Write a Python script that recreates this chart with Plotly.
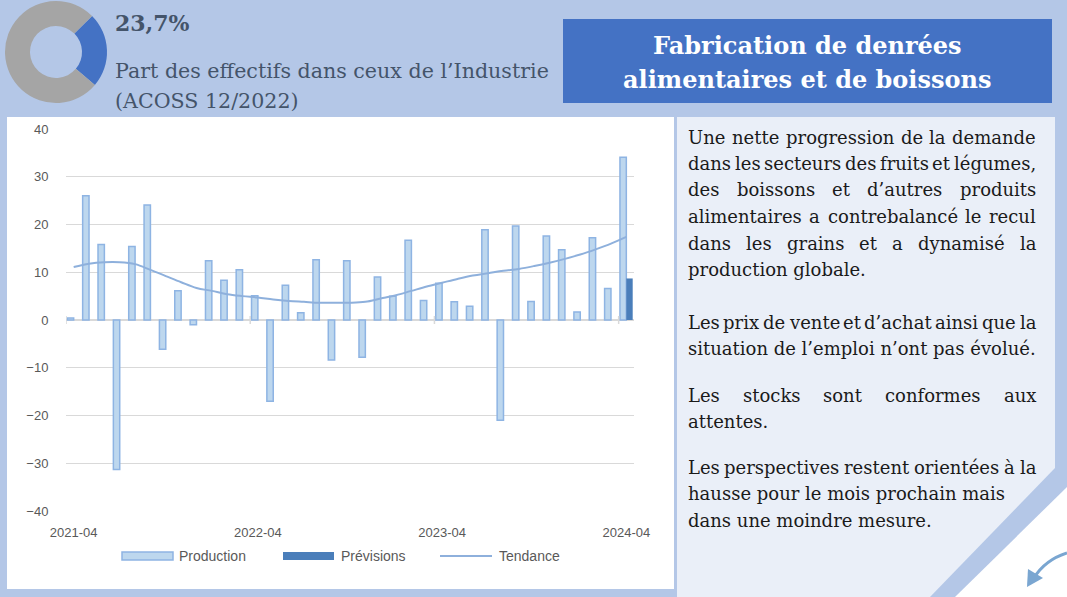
import glob
import plotly.graph_objects as go

# ---------------- data ----------------
months = ["2021-04", "2021-05", "2021-06", "2021-07", "2021-08", "2021-09", "2021-10",
          "2021-11", "2021-12", "2022-01", "2022-02", "2022-03", "2022-04", "2022-05",
          "2022-06", "2022-07", "2022-08", "2022-09", "2022-10", "2022-11", "2022-12",
          "2023-01", "2023-02", "2023-03", "2023-04", "2023-05", "2023-06", "2023-07",
          "2023-08", "2023-09", "2023-10", "2023-11", "2023-12", "2024-01", "2024-02",
          "2024-03", "2024-04"]
production = [0.4, 26.0, 15.8, -31.3, 15.4, 24.1, -6.1, 6.1, -1.0, 12.4, 8.3, 10.5,
              5.1, -17.0, 7.3, 1.5, 12.6, -8.4, 12.4, -7.8, 9.0, 5.0, 16.7, 4.1,
              7.7, 3.8, 2.9, 18.9, -21.0, 19.7, 3.9, 17.6, 14.7, 1.7, 17.2, 6.6, 34.1]
previsions_month = ["2024-04"]
previsions = [8.7]
tendance = [11.1, 11.8, 12.1, 12.1, 11.7, 10.5, 9.2, 7.9, 6.7, 6.1, 5.4, 5.0,
            4.7, 4.3, 4.0, 3.8, 3.6, 3.6, 3.6, 3.8, 4.5, 5.2, 6.1, 7.0,
            7.8, 8.6, 9.3, 9.8, 10.3, 10.7, 11.3, 12.0, 12.8, 13.7, 14.8, 16.0, 17.4]
tick_labels = ["2021-04", "2022-04", "2023-04", "2024-04"]
year_boundaries = [-0.5, 11.5, 23.5, 35.5]
donut_values = [23.7, 76.3]
donut_labels = ["Industrie agroalimentaire", "Autres"]

# commentary lines: (text, justified?)
commentary = [
    ("Une nette progression de la demande", True),
    ("dans les secteurs des fruits et légumes,", True),
    ("des boissons et d’autres produits", True),
    ("alimentaires a contrebalancé le recul", True),
    ("dans les grains et a dynamisé la", True),
    ("production globale.", False),
    ("Les prix de vente et d’achat ainsi que la", True),
    ("situation de l’emploi n’ont pas évolué.", False),
    ("Les stocks sont conformes aux", True),
    ("attentes.", False),
    ("Les perspectives restent orientées à la", True),
    ("hausse pour le mois prochain mais", False),
    ("dans une moindre mesure.", False),
]
commentary_y = [137, 163.5, 190, 216.5, 243, 269.5, 322, 348.5, 395, 421.5, 467, 493.5, 520]

# ---------------- helpers ----------------
W, H = 1067, 597
def px(x):
    return x / W
def py(y):
    return 1 - y / H

BG = "#B4C7E7"
GRID = "#D9D9D9"
AX = "#595959"
SANS = "Liberation Sans, Arial, sans-serif"
SERIF = "DejaVu Serif, serif"
PROD_FILL = "#BDD7EE"
PROD_LINE = "#8EB4E3"
PREV = "#4A7EBA"
TREND = "#8EB0DC"

MEAS = None
try:
    from PIL import ImageFont
    fps = glob.glob("/usr/share/fonts/**/DejaVuSerif.ttf", recursive=True)
    if fps:
        _f = ImageFont.truetype(fps[0], 100)
        MEAS = lambda s, size: _f.getlength(s) * size / 100.0
except Exception:
    MEAS = None

prev_full = [None] * len(months)
for m, v in zip(previsions_month, previsions):
    prev_full[months.index(m)] = v

fig = go.Figure()
fig.add_trace(go.Bar(x=months, y=production, name="Production",
                     marker=dict(color=PROD_FILL, line=dict(color=PROD_LINE, width=1.5)),
                     showlegend=False))
fig.add_trace(go.Bar(x=months, y=prev_full, name="Prévisions",
                     marker=dict(color=PREV, line=dict(width=0)), showlegend=False))
fig.add_trace(go.Scatter(x=months, y=tendance, name="Tendance", mode="lines",
                         line=dict(color=TREND, width=2, shape="spline"), showlegend=False))
fig.add_trace(go.Pie(values=donut_values, labels=donut_labels, hole=0.51, sort=False,
                     direction="clockwise", rotation=45,
                     marker=dict(colors=["#4472C4", "#A5A5A5"], line=dict(width=0)),
                     textinfo="none", showlegend=False,
                     domain=dict(x=[px(5), px(107)], y=[py(103), py(1)])))

def path(points):
    return "M " + " L ".join(f"{px(a):.5f},{py(b):.5f}" for a, b in points) + " Z"

shapes = []
shapes.append(dict(type="rect", xref="paper", yref="paper", x0=px(7), x1=px(674),
                   y0=py(589), y1=py(117), fillcolor="white", line=dict(width=0), layer="below"))
shapes.append(dict(type="path", xref="paper", yref="paper",
                   path=path([(677, 117), (1055, 117), (1055, 468), (930, 597), (677, 597)]),
                   fillcolor="#EAEFF8", line=dict(width=0), layer="below"))
shapes.append(dict(type="path", xref="paper", yref="paper",
                   path=path([(1067, 487), (955, 597), (1067, 597)]),
                   fillcolor="white", line=dict(width=0), layer="below"))
shapes.append(dict(type="path", xref="paper", yref="paper",
                   path=f"M {px(1067)},{py(553)} Q {px(1045)},{py(560)} {px(1034)},{py(578)}",
                   line=dict(color="#7AA6D1", width=3)))
shapes.append(dict(type="path", xref="paper", yref="paper",
                   path=path([(1027, 587), (1028, 569), (1043, 578)]),
                   fillcolor="#7AA6D1", line=dict(width=0)))
shapes.append(dict(type="rect", xref="paper", yref="paper", x0=px(563), x1=px(1052),
                   y0=py(103), y1=py(19), fillcolor="#4472C4", line=dict(width=0)))
for b in year_boundaries:
    shapes.append(dict(type="line", xref="x", yref="y", x0=b, x1=b, ysizemode="pixel",
                       yanchor=0, y0=-4, y1=4, line=dict(color=GRID, width=1.5)))
shapes.append(dict(type="rect", xref="paper", yref="paper", x0=px(122), x1=px(173),
                   y0=py(560), y1=py(552), fillcolor=PROD_FILL, line=dict(color=PROD_LINE, width=1.5)))
shapes.append(dict(type="rect", xref="paper", yref="paper", x0=px(283), x1=px(334),
                   y0=py(560), y1=py(552), fillcolor=PREV, line=dict(width=0)))
shapes.append(dict(type="line", xref="paper", yref="paper", x0=px(440), x1=px(492),
                   y0=py(556), y1=py(556), line=dict(color=TREND, width=2)))

ann = []
def text(x, y, s, size, color, family, anchor="left", bold=False):
    ann.append(dict(x=px(x), y=py(y), xref="paper", yref="paper",
                    text=(f"<b>{s}</b>" if bold else s),
                    showarrow=False, xanchor=anchor, yanchor="middle", borderpad=0,
                    font=dict(size=size, color=color, family=family)))

# legend text
text(178, 556, "Production", 14, AX, SANS)
text(340, 556, "Prévisions", 14, AX, SANS)
text(498, 556, "Tendance", 14, AX, SANS)

# header texts
text(114, 23, "23,7%", 22, "#44546A", SERIF, bold=True)
text(114, 70.5, "Part des effectifs dans ceux de l’Industrie", 20.6, "#44546A", SERIF)
text(114, 101.5, "(ACOSS 12/2022)", 20.6, "#44546A", SERIF)
text(807, 45.5, "Fabrication de denrées", 24, "white", SERIF, anchor="center", bold=True)
text(807, 79.5, "alimentaires et de boissons", 24, "white", SERIF, anchor="center", bold=True)

# body text
TXT = "#1A1A1A"
BS = 18
L, R = 687, 1035
fallback_size = {0: 18, 1: 17.4, 6: 17.25, 10: 17.7}
fallback_centers = {
    2: [770.8, 834.7, 897.5],
    3: [818.3, 893.7, 973.7],
    4: [760.7, 817, 866.7, 892.3, 963.3],
    8: [768.7, 840.3, 931],
}

for i, ((line, just), y) in enumerate(zip(commentary, commentary_y)):
    words = line.split()
    if not just:
        text(L, y, line, BS, TXT, SERIF)
    elif MEAS is not None:
        widths = [MEAS(w, BS) for w in words]
        gap = (R - L - sum(widths)) / (len(words) - 1)
        if gap >= 2.5:
            x = L
            for w, wd in zip(words, widths):
                text(x, y, w, BS, TXT, SERIF)
                x += wd + gap
        else:
            text(L, y, line, BS * (R - L) / MEAS(line, BS), TXT, SERIF)
    else:
        if i in fallback_centers:
            text(L, y, words[0], BS, TXT, SERIF)
            for w, c in zip(words[1:-1], fallback_centers[i]):
                text(c, y, w, BS, TXT, SERIF, anchor="center")
            text(R, y, words[-1], BS, TXT, SERIF, anchor="right")
        else:
            text(L, y, line, fallback_size.get(i, BS), TXT, SERIF)

fig.update_layout(
    width=W, height=H, margin=dict(l=0, r=0, t=0, b=0, pad=0), autosize=False,
    paper_bgcolor=BG, plot_bgcolor="rgba(0,0,0,0)",
    barmode="group", bargap=0.17, bargroupgap=0,
    shapes=shapes, annotations=ann, showlegend=False,
    xaxis=dict(domain=[px(66), px(634)], type="category", range=[-0.5, 36.5],
               tickvals=tick_labels, ticktext=tick_labels, showgrid=False, showline=False,
               zeroline=False, ticks="outside", ticklen=9, tickcolor="rgba(0,0,0,0)",
               tickfont=dict(family=SANS, size=13, color=AX), fixedrange=True, automargin=False),
    yaxis=dict(domain=[py(511), py(129)], range=[-40, 40], dtick=10, showgrid=True,
               gridcolor=GRID, gridwidth=1, zeroline=True, zerolinecolor=GRID, zerolinewidth=1.5,
               showline=False, ticks="outside", ticklen=14, tickcolor="rgba(0,0,0,0)",
               tickfont=dict(family=SANS, size=13, color=AX), fixedrange=True, automargin=False),
)

fig.write_html("out.html", config={"displayModeBar": False},
               post_script="document.body.style.margin='0px';")
